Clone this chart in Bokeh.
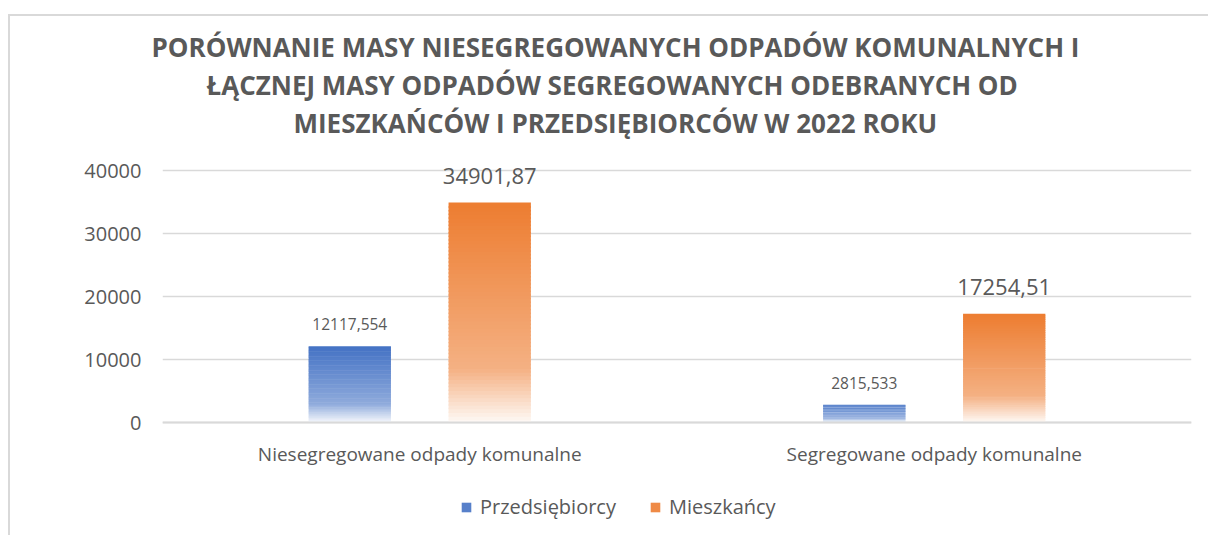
import math
from bokeh.plotting import figure
from bokeh.models import (ColumnDataSource, Range1d, FixedTicker, Legend, LegendItem, Title,
                          Span, Label)
from bokeh.core.properties import value
from bokeh.embed import file_html
from bokeh.resources import INLINE

# ---- data ----
categories = ["Niesegregowane odpady komunalne", "Segregowane odpady komunalne"]
series_names = ["Przedsiębiorcy", "Mieszkańcy"]
przedsiebiorcy = [12117.554, 2815.533]
mieszkancy = [34901.87, 17254.51]
value_labels_p = ["12117,554", "2815,533"]
value_labels_m = ["34901,87", "17254,51"]
title_lines = [
    "PORÓWNANIE MASY NIESEGREGOWANYCH ODPADÓW KOMUNALNYCH I",
    "ŁĄCZNEJ MASY ODPADÓW SEGREGOWANYCH  ODEBRANYCH OD",
    "MIESZKAŃCÓW I PRZEDSIĘBIORCÓW W 2022 ROKU",
]
y_axis_title = "[MG]"
y_ticks = [0, 10000, 20000, 30000, 40000]

BLUE = (68, 114, 196)
ORANGE = (237, 125, 49)
TXT = "#595959"
GRID = "#D9D9D9"
FONT = "Open Sans"

# ---- layout (pixels) ----
AXIS_PX = 252          # height of the 0..40000 value axis
ABOVE_PX = 30          # frame space above the top tick
BELOW_PX = 108         # frame space below zero (category labels + legend)
px_per_unit = AXIS_PX / (y_ticks[-1] - y_ticks[0])
y_end = y_ticks[-1] + ABOVE_PX / px_per_unit
y_start = y_ticks[0] - BELOW_PX / px_per_unit


def mix(rgb, f):
    r, g, b = (int(round(c + (255 - c) * f)) for c in rgb)
    return "#%02x%02x%02x" % (r, g, b)


def white_frac(t):
    # t = 0 at top of bar, 1 at bottom
    if t <= 0.75:
        return 0.40 * t / 0.75
    return 0.40 + 0.57 * (t - 0.75) / 0.25


N = 60


def gradient_source(values, offset, rgb):
    xs, bots, tops, cols = [], [], [], []
    for i, v in enumerate(values):
        for k in range(N):
            t = 1 - (k + 0.5) / N
            xs.append(i + offset)
            bots.append(max(0.0, v * (k - 0.4) / N))
            tops.append(v * (k + 1) / N)
            cols.append(mix(rgb, white_frac(t)))
    return ColumnDataSource(dict(x=xs, bottom=bots, top=tops, color=cols))


p = figure(width=1200, height=521, output_backend="svg", toolbar_location=None,
           x_range=Range1d(-0.5, 1.5), y_range=Range1d(y_start, y_end),
           min_border_left=152, min_border_right=19, min_border_top=124,
           min_border_bottom=7, background_fill_color="white",
           border_fill_color="white", outline_line_color=None)
p.styles = {"border-left": "2px solid #D9D9D9", "border-top": "2px solid #D9D9D9",
            "margin-top": "14px", "margin-left": "8px"}

p.title.text = ""
title_offsets = [-11, 44, 131]
for i in (2, 1, 0):
    p.add_layout(Title(text=title_lines[i], align="left", text_font=FONT,
                       text_font_size="26px", text_font_style="bold", text_color=TXT,
                       offset=title_offsets[i], standoff=0), "above")

# grid + baseline
p.xgrid.grid_line_color = None
p.ygrid.ticker = FixedTicker(ticks=y_ticks)
p.ygrid.grid_line_color = GRID
p.ygrid.grid_line_width = 1.5
p.add_layout(Span(location=y_ticks[0], dimension="width", line_color=GRID, line_width=2))

bar_w = 0.16
off = 0.136
src_p = gradient_source(przedsiebiorcy, -off, BLUE)
src_m = gradient_source(mieszkancy, off, ORANGE)
r_p = p.vbar(x="x", bottom="bottom", top="top", width=bar_w, fill_color="color",
             line_color=None, source=src_p)
r_m = p.vbar(x="x", bottom="bottom", top="top", width=bar_w, fill_color="color",
             line_color=None, source=src_m)

xs = list(range(len(categories)))
lab_p = ColumnDataSource(dict(x=[i - off for i in xs], y=przedsiebiorcy, t=value_labels_p))
lab_m = ColumnDataSource(dict(x=[i + off for i in xs], y=mieszkancy, t=value_labels_m))
p.text(x="x", y="y", text="t", source=lab_p, text_align="center", text_baseline="bottom",
       y_offset=-16, text_font_size="15.5px", text_color=TXT, text_font=value(FONT))
p.text(x="x", y="y", text="t", source=lab_m, text_align="center", text_baseline="bottom",
       y_offset=-19, text_font_size="22px", text_color=TXT, text_font=value(FONT))

# category labels under the baseline
cat_src = ColumnDataSource(dict(x=xs, y=[y_ticks[0]] * len(xs), t=categories))
p.text(x="x", y="y", text="t", source=cat_src, text_align="center", text_baseline="middle",
       y_offset=31, text_font_size="19px", text_color=TXT, text_font=value(FONT))

# axes
p.xaxis.visible = False

p.yaxis.ticker = FixedTicker(ticks=y_ticks)
p.yaxis.major_tick_line_color = None
p.yaxis.major_tick_out = 0
p.yaxis.major_tick_in = 0
p.yaxis.minor_tick_line_color = None
p.yaxis.axis_line_color = None
p.yaxis.major_label_text_font = FONT
p.yaxis.major_label_text_font_size = "20px"
p.yaxis.major_label_text_color = TXT
p.yaxis.major_label_standoff = 21

# value-axis title, centred on the 0..40000 span
p.add_layout(Label(x=48, y=(y_ticks[0] + y_ticks[-1]) / 2, x_units="canvas", y_units="data",
                   text=y_axis_title, angle=math.pi / 2, text_align="center",
                   text_baseline="middle", text_font=FONT, text_font_size="22px",
                   text_color=TXT))

legend = Legend(items=[LegendItem(label=series_names[0], renderers=[r_p], index=N - 12),
                       LegendItem(label=series_names[1], renderers=[r_m], index=N - 12)],
                orientation="horizontal", location=(298, 10),
                glyph_width=12, glyph_height=12, spacing=33, label_standoff=8,
                label_height=20, label_text_font=FONT, label_text_font_size="20px",
                label_text_color=TXT, border_line_color=None, background_fill_alpha=0,
                padding=0, margin=0)
p.add_layout(legend, "center")

open("out.html", "w").write(file_html(p, INLINE))
